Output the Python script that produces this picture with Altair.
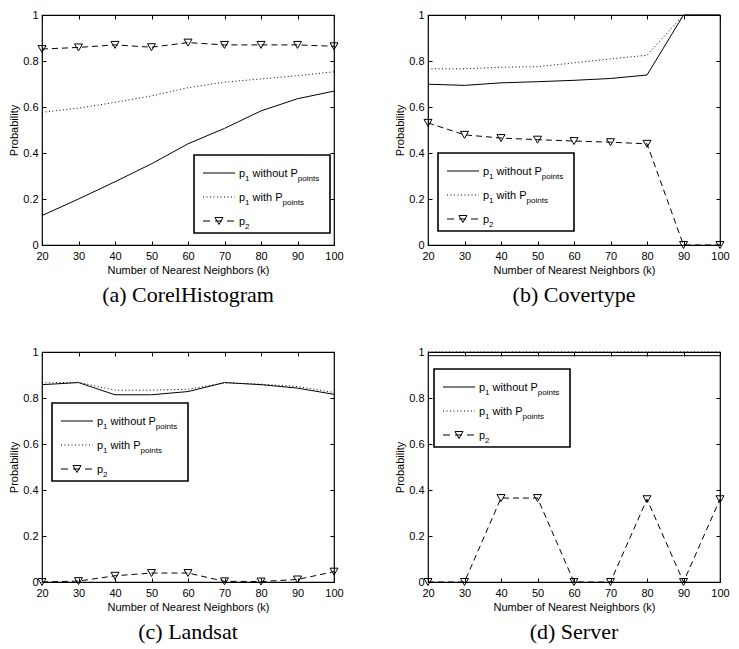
import altair as alt
import pandas as pd

# ---------------- data ----------------
k = [20, 30, 40, 50, 60, 70, 80, 90, 100]
y_ticks = [0, 0.2, 0.4, 0.6, 0.8, 1]

corel_p1_without = [0.128, 0.200, 0.275, 0.353, 0.440, 0.507, 0.583, 0.636, 0.669]
corel_p1_with = [0.577, 0.595, 0.620, 0.648, 0.684, 0.708, 0.722, 0.736, 0.753]
corel_p2 = [0.852, 0.859, 0.870, 0.860, 0.880, 0.870, 0.870, 0.870, 0.864]

cover_p1_without = [0.699, 0.694, 0.705, 0.710, 0.716, 0.724, 0.739, 1.0, 1.0]
cover_p1_with = [0.766, 0.766, 0.773, 0.775, 0.792, 0.809, 0.825, 1.0, 1.0]
cover_p2 = [0.531, 0.479, 0.465, 0.458, 0.452, 0.447, 0.440, 0.0, 0.0]

land_p1_without = [0.858, 0.867, 0.814, 0.814, 0.828, 0.867, 0.858, 0.843, 0.816]
land_p1_with = [0.866, 0.868, 0.834, 0.834, 0.838, 0.866, 0.860, 0.850, 0.824]
land_p2 = [0.000, 0.004, 0.027, 0.039, 0.039, 0.003, 0.002, 0.011, 0.045]

server_p1_without = [0.984, 0.984, 0.984, 0.984, 0.984, 0.984, 0.984, 0.984, 0.984]
server_p1_with = [1.0, 1.0, 1.0, 1.0, 1.0, 1.0, 1.0, 1.0, 1.0]
server_p2 = [0.0, 0.0, 0.365, 0.365, 0.0, 0.0, 0.36, 0.0, 0.36]

captions = ["(a) CorelHistogram", "(b) Covertype", "(c) Landsat", "(d) Server"]
x_title = "Number of Nearest Neighbors (k)"
y_title = "Probability"

# ---------------- style ----------------
W, H = 292, 230
FONT = "Liberation Sans"
SERIF = "Liberation Serif"
FS, SUB = 11, 8
TICK = 4

LEG_W, LEG_H = 136, 78
ROWS = [18, 42, 66]
# legend box (left, top) inside plot area, in px
legend_pos = [(W - 4 - LEG_W, H - 12 - LEG_H), (10, H - 14 - LEG_H), (10, 51), (6, 17)]

AW = {"p": .556, "1": .556, "2": .556, " ": .278, "w": .722, "i": .222, "t": .278,
      "h": .556, "o": .556, "u": .556, "P": .667, "n": .556, "s": .5}


def tw(s, fs):
    return sum(AW[c] for c in s) * fs


one = pd.DataFrame({"a": [0]})


def legend_layers(L, T):
    layers = []
    layers.append(alt.Chart(one).mark_rect(fill="white", stroke="black", strokeWidth=1.6).encode(
        x=alt.value(L), x2=alt.value(L + LEG_W), y=alt.value(T), y2=alt.value(T + LEG_H)))
    dashes = [None, [1, 2.5], [7, 5]]
    for r, d in zip(ROWS, dashes):
        kw = dict(color="black", strokeWidth=1)
        if d:
            kw["strokeDash"] = d
        layers.append(alt.Chart(one).mark_rule(**kw).encode(
            x=alt.value(L + 9), x2=alt.value(L + 41), y=alt.value(T + r)))
    layers.append(alt.Chart(one).mark_point(shape="triangle-down", filled=False, color="black",
                                            size=64, strokeWidth=1, opacity=1).encode(
        x=alt.value(L + 25), y=alt.value(T + ROWS[2])))
    # (text, is_subscript, gap_before)
    rows_text = [
        [("p", 0, 0), ("1", 1, 0), ("without", 0, 1), ("P", 0, 1), ("points", 1, 0)],
        [("p", 0, 0), ("1", 1, 0), ("with", 0, 1), ("P", 0, 1), ("points", 1, 0)],
        [("p", 0, 0), ("2", 1, 0)],
    ]
    for r, pieces in zip(ROWS, rows_text):
        x0 = L + 45
        for txt, sub, gap in pieces:
            fs = SUB if sub else FS
            x0 += gap * tw(" ", FS)
            yb = T + r + (7.5 if sub else 4)
            layers.append(alt.Chart(one).mark_text(
                text=txt, align="left", baseline="alphabetic", font=FONT, fontSize=fs,
                color="black").encode(x=alt.value(x0), y=alt.value(yb)))
            x0 += tw(txt, fs)
    return layers


def panel(cap, p1w, p1p, p2, leg):
    df = pd.DataFrame({"k": k, "p1w": p1w, "p1p": p1p, "p2": p2})
    xs = alt.Scale(domain=[20, 100], nice=False, zero=False)
    ys = alt.Scale(domain=[0, 1], nice=False, zero=False)
    xax = alt.Axis(values=k, orient="bottom", offset=-TICK, tickSize=TICK, domain=False,
                   grid=False, labelPadding=5, title=x_title, titlePadding=3, labelFlush=False)
    yax = alt.Axis(values=y_ticks, orient="left", offset=-TICK, tickSize=TICK, domain=False,
                   grid=False, labelPadding=4, title=y_title, format="~g", titlePadding=3,
                   labelFlush=False)
    xtop = alt.Axis(values=k, orient="top", offset=-TICK, tickSize=TICK, domain=False,
                    grid=False, labels=False, title=None)
    yright = alt.Axis(values=y_ticks, orient="right", offset=-TICK, tickSize=TICK, domain=False,
                      grid=False, labels=False, title=None)
    base = alt.Chart(df)
    l1 = base.mark_line(color="black", strokeWidth=1).encode(
        x=alt.X("k:Q", scale=xs, axis=xax), y=alt.Y("p1w:Q", scale=ys, axis=yax))
    l2 = base.mark_line(color="black", strokeWidth=1, strokeDash=[1, 2.5]).encode(
        x=alt.X("k:Q", scale=xs, axis=None), y=alt.Y("p1p:Q", scale=ys, axis=None))
    l3 = base.mark_line(color="black", strokeWidth=1, strokeDash=[6, 4]).encode(
        x=alt.X("k:Q", scale=xs, axis=None), y=alt.Y("p2:Q", scale=ys, axis=None))
    pts = base.mark_point(shape="triangle-down", filled=False, color="black", size=64,
                          strokeWidth=1, opacity=1).encode(
        x=alt.X("k:Q", scale=xs, axis=None), y=alt.Y("p2:Q", scale=ys, axis=None))
    frame = base.mark_point(opacity=0).encode(
        x=alt.X("k:Q", scale=xs, axis=xtop), y=alt.Y("p2:Q", scale=ys, axis=yright))
    layers = [l1, l2, l3, pts, frame] + legend_layers(*leg)
    return alt.layer(*layers).resolve_axis(x="independent", y="independent").properties(
        width=W, height=H,
        title=alt.TitleParams(cap, orient="bottom", font=SERIF, fontSize=22, fontWeight="normal",
                              color="black", frame="group", anchor="middle", offset=10))


pa = panel(captions[0], corel_p1_without, corel_p1_with, corel_p2, legend_pos[0])
pb = panel(captions[1], cover_p1_without, cover_p1_with, cover_p2, legend_pos[1])
pc = panel(captions[2], land_p1_without, land_p1_with, land_p2, legend_pos[2])
pd_ = panel(captions[3], server_p1_without, server_p1_with, server_p2, legend_pos[3])

chart = alt.vconcat(
    alt.hconcat(pa, pb, spacing=50),
    alt.hconcat(pc, pd_, spacing=50),
    spacing=38,
).properties(padding=0).configure_view(stroke="black", strokeWidth=1.2).configure_axis(
    labelFont=FONT, titleFont=FONT, labelFontSize=11, titleFontSize=11, labelColor="black",
    titleColor="black", tickColor="black", titleFontWeight="normal", tickWidth=1
)

chart.save("out.html", embed_options={"renderer": "svg", "actions": False})
